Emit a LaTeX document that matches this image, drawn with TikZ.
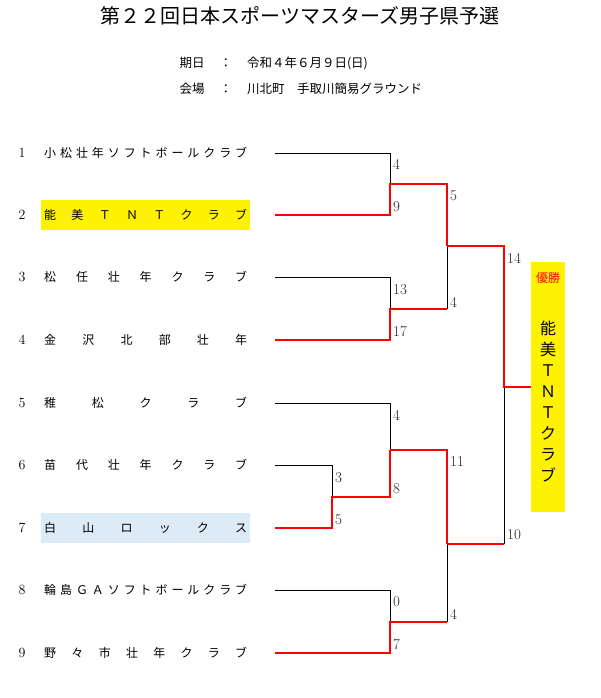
\documentclass[tikz,border=0pt]{standalone}
\usepackage{fontspec}
\newfontfamily\jp{Noto Sans CJK JP}
\definecolor{lblue}{HTML}{DDEBF7}
\begin{document}
\begin{tikzpicture}[x=1pt,y=-1pt,
  blk/.style={draw=black,line width=0.8pt},
  win/.style={draw=red,line width=2pt},
  sc/.style={anchor=west,font=\fontsize{15}{15}\selectfont,text=black!85,inner sep=1pt},
  num/.style={anchor=center,font=\fontsize{14}{14}\selectfont},
  team/.style={anchor=west,inner sep=0pt,font=\jp\fontsize{12}{12}\selectfont}]
\useasboundingbox (0,0) rectangle (600,698);
\node[font=\jp\fontsize{20}{21}\selectfont] (title) at (300,16) {第２２回日本スポーツマスターズ男子県予選};
\node[anchor=west,font=\jp\fontsize{12.5}{13}\selectfont] (date) at (176,63) {期日\hspace{1.2em}：\hspace{1.2em}令和４年６月９日(日)};
\node[anchor=west,font=\jp\fontsize{12.5}{13}\selectfont] (venue) at (176,89) {会場\hspace{1.2em}：\hspace{1.2em}川北町\hspace{1em}手取川簡易グラウンド};
\fill[yellow] (41,200) rectangle (250,230);
\fill[lblue] (41,513) rectangle (250,543);
\fill[yellow] (531,262) rectangle (565,512);
\foreach \i/\y/\t in {1/153/{小\hfill 松\hfill 壮\hfill 年\hfill ソ\hfill フ\hfill ト\hfill ボ\hfill ー\hfill ル\hfill ク\hfill ラ\hfill ブ},
 2/215/{能\hfill 美\hfill Ｔ\hfill Ｎ\hfill Ｔ\hfill ク\hfill ラ\hfill ブ},
 3/277/{松\hfill 任\hfill 壮\hfill 年\hfill ク\hfill ラ\hfill ブ},
 4/340/{金\hfill 沢\hfill 北\hfill 部\hfill 壮\hfill 年},
 5/403/{稚\hfill 松\hfill ク\hfill ラ\hfill ブ},
 6/465/{苗\hfill 代\hfill 壮\hfill 年\hfill ク\hfill ラ\hfill ブ},
 7/528/{白\hfill 山\hfill ロ\hfill ッ\hfill ク\hfill ス},
 8/590/{輪\hfill 島\hfill Ｇ\hfill Ａ\hfill ソ\hfill フ\hfill ト\hfill ボ\hfill ー\hfill ル\hfill ク\hfill ラ\hfill ブ},
 9/653/{野\hfill 々\hfill 市\hfill 壮\hfill 年\hfill ク\hfill ラ\hfill ブ}}{
  \node[num] (n\i) at (22,\y) {\i};
  \node[team] (t\i) at (44,\y) {\makebox[203pt][s]{\t}};
  \coordinate (e\i) at (275,\y);
}
\coordinate (m1) at (390,184); \coordinate (m2) at (390,309);
\coordinate (m3) at (332,497); \coordinate (m4) at (390,450);
\coordinate (m5) at (390,622);
\coordinate (s1) at (447,246); \coordinate (s2) at (447,544);
\coordinate (f) at (504,387);
\coordinate (champ) at (531,387);
\draw[blk] (e1) -| (m1);
\draw[win] (e2) -| (m1) -- (m1 -| s1) -- (s1);
\draw[blk] (e3) -| (m2);
\draw[win] (e4) -| (m2) -- (m2 -| s1);
\draw[blk] (m2 -| s1) -- (s1);
\draw[blk] (e6) -| (m3);
\draw[blk] (e5) -| (m4);
\draw[win] (e7) -| (m3) -- (m3 -| m4) -- (m4);
\draw[win] (m4) -- (m4 -| s2) -- (s2);
\draw[blk] (e8) -| (m5);
\draw[win] (e9) -| (m5) -- (m5 -| s2);
\draw[blk] (m5 -| s2) -- (s2);
\draw[blk] (s2 -| f) -- (f);
\draw[win] (s1) -- (s1 -| f) -- (f) -- (champ);
\draw[win] (s2) -- (s2 -| f);
\node[sc] (a1) at (392,164) {4};
\node[sc] (a2) at (392,207) {9};
\node[sc] (a3) at (449,196) {5};
\node[sc] (a4) at (392,290) {13};
\node[sc] (a5) at (392,332) {17};
\node[sc] (a6) at (449,302) {4};
\node[sc] (a7) at (506,258) {14};
\node[sc] (a8) at (392,415) {4};
\node[sc] (a9) at (334,478) {3};
\node[sc] (a10) at (334,520) {5};
\node[sc] (a11) at (392,489) {8};
\node[sc] (a12) at (449,462) {11};
\node[sc] (a13) at (392,602) {0};
\node[sc] (a14) at (392,645) {7};
\node[sc] (a15) at (449,614) {4};
\node[sc] (a16) at (506,535) {10};
\node[font=\jp\fontsize{12}{12}\selectfont,text=red] (yu) at (548,278) {優勝};
\node[font=\jp\fontsize{16}{21}\selectfont,align=center,inner sep=0pt] (cn) at (548,402) {能\\美\\Ｔ\\Ｎ\\Ｔ\\ク\\ラ\\ブ};
\end{tikzpicture}
\end{document}
